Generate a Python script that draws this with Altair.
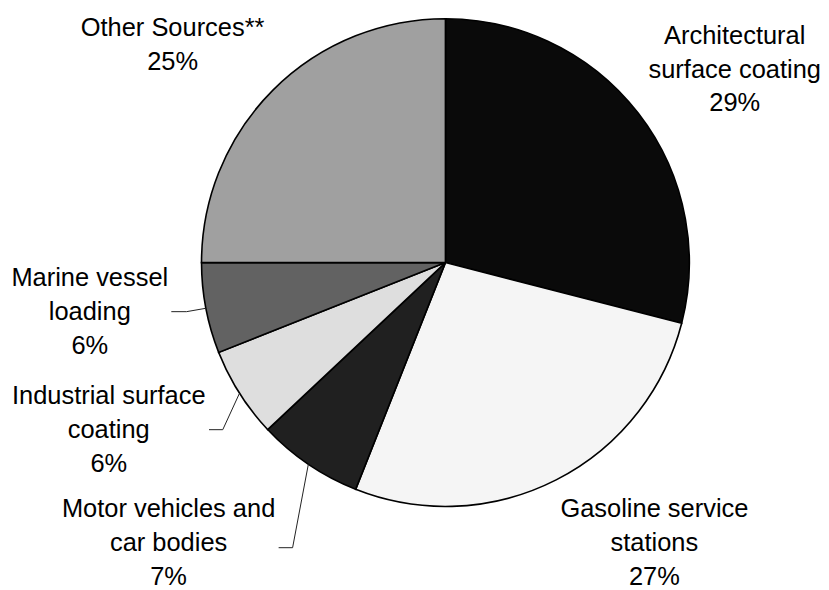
import math
import altair as alt
import pandas as pd

# ---- data ----
sources = [
    "Architectural surface coating",
    "Gasoline service stations",
    "Motor vehicles and car bodies",
    "Industrial surface coating",
    "Marine vessel loading",
    "Other Sources**",
]
shares = [29, 27, 7, 6, 6, 25]
label_texts = [
    "Architectural\nsurface coating\n29%",
    "Gasoline service\nstations\n27%",
    "Motor vehicles and\ncar bodies\n7%",
    "Industrial surface\ncoating\n6%",
    "Marine vessel\nloading\n6%",
    "Other Sources**\n25%",
]
colors = ["#0a0a0a", "#f5f5f5", "#202020", "#dedede", "#626262", "#a0a0a0"]

# ---- layout (chart pixel coordinates) ----
W, H = 813, 574
CX, CY, R = 438.5, 254.5, 244.5
FONT = "Liberation Sans"
FS = 25.5
LH = 34.0
# first-line baseline anchor of each label
label_anchor = {
    "Architectural surface coating": (728.5, 35.0),
    "Gasoline service stations": (648.0, 510.0),
    "Motor vehicles and car bodies": (161.0, 509.5),
    "Industrial surface coating": (101.0, 396.3),
    "Marine vessel loading": (82.0, 277.7),
    "Other Sources**": (165.0, 27.0),
}
# leader lines: elbow point and end point
leader_pts = {
    "Motor vehicles and car bodies": [(285.3, 540.3), (271.3, 540.3)],
    "Industrial surface coating": [(215.3, 422.0), (201.5, 422.0)],
    "Marine vessel loading": [(179.0, 303.7), (163.7, 303.7)],
}

df = pd.DataFrame({"source": sources, "value": shares, "idx": list(range(len(sources)))})

# labels
lab = pd.DataFrame({
    "source": sources,
    "text": label_texts,
    "x": [label_anchor[s][0] for s in sources],
    "y": [label_anchor[s][1] for s in sources],
})

# leader lines from slice mid-angle on the rim
total = sum(shares)
rows = []
cum = 0
for s, v in zip(sources, shares):
    mid = (cum + v / 2) / total
    cum += v
    if s in leader_pts:
        a = 2 * math.pi * mid
        pts = [(CX + R * math.sin(a), CY - R * math.cos(a))] + leader_pts[s]
        for k, (px, py) in enumerate(pts):
            rows.append({"source": s, "seq": k, "x": px, "y": py})
lines = pd.DataFrame(rows)

arcs = alt.Chart(df).mark_arc(
    outerRadius=R, stroke="black", strokeWidth=1.6
).encode(
    theta=alt.Theta("value:Q", stack=True),
    order=alt.Order("idx:Q", sort="ascending"),
    color=alt.Color("source:N", scale=alt.Scale(domain=sources, range=colors), legend=None),
    x=alt.value(CX),
    y=alt.value(CY),
)

leaders = alt.Chart(lines).mark_line(color="#222222", strokeWidth=1).encode(
    x=alt.X("x:Q", scale=None, axis=None),
    y=alt.Y("y:Q", scale=None, axis=None),
    detail="source:N",
    order="seq:Q",
)

texts = alt.Chart(lab).mark_text(
    font=FONT, fontSize=FS, lineBreak="\n", lineHeight=LH,
    align="center", baseline="alphabetic", color="black",
).encode(
    x=alt.X("x:Q", scale=None, axis=None),
    y=alt.Y("y:Q", scale=None, axis=None),
    text="text:N",
)

chart = alt.layer(arcs, leaders, texts).properties(
    width=W, height=H, padding=0
).configure_view(stroke=None)

chart.save("out.html", embed_options={"renderer": "svg", "actions": False})
